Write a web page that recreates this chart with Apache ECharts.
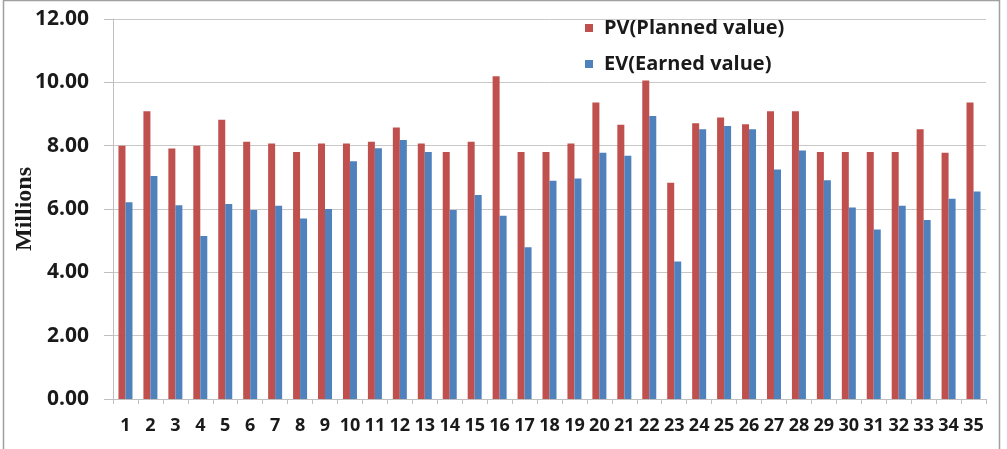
<!DOCTYPE html>
<html>
<head>
<meta charset="utf-8">
<script src="https://cdn.jsdelivr.net/npm/echarts@6/dist/echarts.min.js"></script>
<style>
html,body{margin:0;padding:0;background:#fff;}
#chart{width:1007px;height:449px;}
</style>
</head>
<body>
<div id="chart"></div>
<script>
const categories = ['1','2','3','4','5','6','7','8','9','10','11','12','13','14','15','16','17','18','19','20','21','22','23','24','25','26','27','28','29','30','31','32','33','34','35'];
const pvValues = [8.00,9.09,7.91,8.00,8.82,8.12,8.07,7.80,8.07,8.07,8.12,8.57,8.07,7.80,8.12,10.19,7.80,7.80,8.07,9.36,8.66,10.06,6.83,8.71,8.89,8.68,9.09,9.09,7.80,7.80,7.80,7.80,8.52,7.78,9.36];
const evValues = [6.21,7.04,6.12,5.15,6.16,5.97,6.10,5.70,6.00,7.51,7.92,8.18,7.80,5.97,6.44,5.79,4.79,6.89,6.96,7.78,7.68,8.94,4.34,8.52,8.62,8.52,7.25,7.85,6.91,6.05,5.35,6.10,5.65,6.32,6.55];
const seriesNames = ['PV(Planned value)','EV(Earned value)'];
const yAxisTitle = 'Millions';

const chart = echarts.init(document.getElementById('chart'), null, {renderer:'canvas'});
const sans = '"Open Sans", "DejaVu Sans", sans-serif';
chart.setOption({
  animation:false,
  backgroundColor:'#ffffff',
  graphic:[{
    type:'rect', silent:true, z:-1,
    shape:{x:3.5, y:0.5, width:996, height:470},
    style:{fill:'none', stroke:'#a0a0a0', lineWidth:1.5}
  }],
  legend:{
    orient:'vertical', left:580, top:13,
    itemWidth:8, itemHeight:8, itemGap:16,
    icon:'rect',
    textStyle:{fontFamily:sans, fontWeight:'bold', fontSize:20, color:'#1a1a1a', lineHeight:20, padding:[0,0,0,6]},
    data:seriesNames
  },
  grid:{left:113, right:21, top:19, bottom:50, containLabel:false, outerBoundsMode:'none'},
  xAxis:{
    type:'category', data:categories,
    boundaryGap:true,
    axisLine:{lineStyle:{color:'#bfbfbf', width:1}},
    axisTick:{show:true, length:5, lineStyle:{color:'#bfbfbf'}},
    axisLabel:{interval:0, margin:18, fontFamily:sans, fontWeight:'bold', fontSize:18, color:'#1a1a1a'}
  },
  yAxis:{
    type:'value', min:0, max:12, interval:2,
    name:yAxisTitle, nameLocation:'middle', nameGap:76, nameRotate:90, nameMoveOverlap:false,
    nameTextStyle:{fontFamily:'"Liberation Serif", "DejaVu Serif", serif', fontWeight:'bold', fontSize:24, color:'#1a1a1a'},
    axisLine:{show:true, lineStyle:{color:'#bfbfbf', width:1}},
    axisTick:{show:true, length:9, lineStyle:{color:'#bfbfbf'}},
    splitLine:{show:true, lineStyle:{color:'#c8c8c8', width:1}},
    axisLabel:{margin:24, fontFamily:sans, fontWeight:'bold', fontSize:21, color:'#1a1a1a',
      formatter:function(v){return v.toFixed(2);}}
  },
  series:[
    {name:seriesNames[0], type:'bar', data:pvValues, barWidth:7, barGap:'0%', itemStyle:{color:'#c0504d'}},
    {name:seriesNames[1], type:'bar', data:evValues, barWidth:7, barGap:'0%', itemStyle:{color:'#4f81bd'}}
  ]
});
</script>
</body>
</html>
